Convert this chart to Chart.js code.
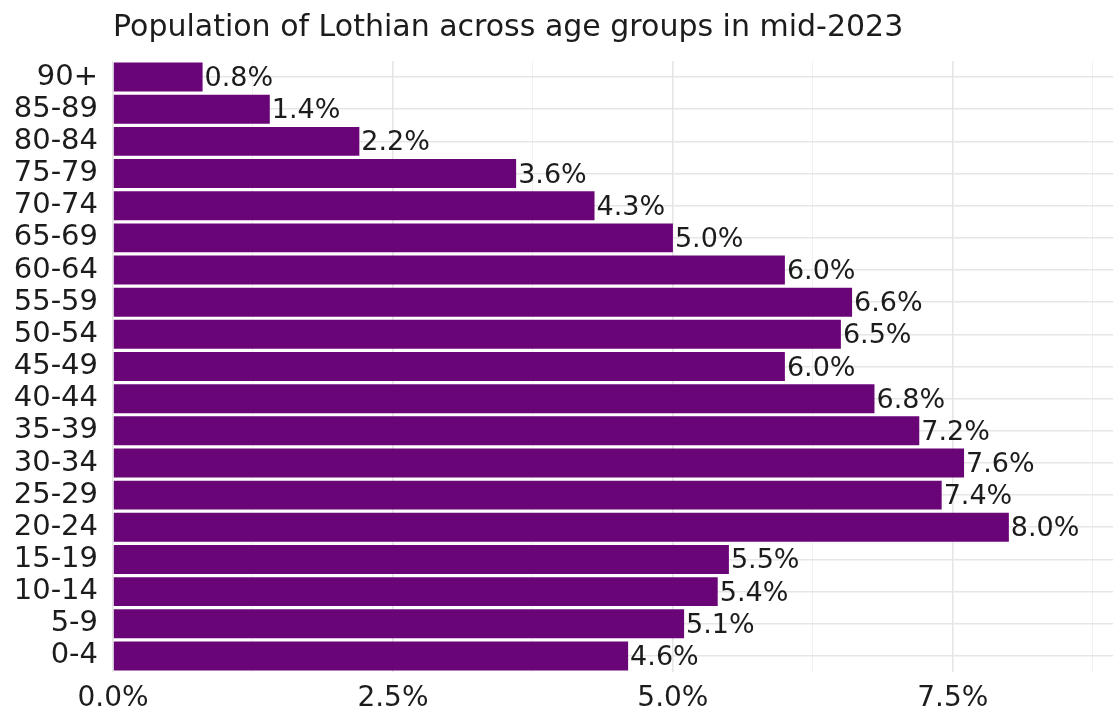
<!DOCTYPE html>
<html>
<head>
<meta charset="utf-8">
<title>Population of Lothian by age group</title>
<script src="https://cdn.jsdelivr.net/npm/chart.js@4/dist/chart.umd.min.js"></script>
<style>
  html, body { margin: 0; padding: 0; background: #ffffff; }
  #wrap { width: 1113px; height: 711px; }
</style>
</head>
<body>
<div id="wrap"><canvas id="ageChart" width="1113" height="711"></canvas></div>
<script>
// ── Data ──────────────────────────────────────────────────────
const AGE_GROUPS = ['0-4', '5-9', '10-14', '15-19', '20-24', '25-29', '30-34', '35-39', '40-44',
                    '45-49', '50-54', '55-59', '60-64', '65-69', '70-74', '75-79', '80-84', '85-89', '90+'];
const SHARE_PCT  = [4.6, 5.1, 5.4, 5.5, 8.0, 7.4, 7.6, 7.2, 6.8,
                    6.0, 6.5, 6.6, 6.0, 5.0, 4.3, 3.6, 2.2, 1.4, 0.8];
const TITLE_TEXT = 'Population of Lothian across age groups in mid-2023';

// ── Styles ────────────────────────────────────────────────────
const FONT_FAMILY = '"DejaVu Sans", sans-serif';
const BAR_COLOR   = '#6a0578';
const TEXT_COLOR  = '#1c1c1c';
const GRID_MAJOR  = '#e6e6e6';
const GRID_MINOR  = '#f0f0f0';

const fmtPct = v => v.toFixed(1) + '%';
const isMajor = v => Math.abs(v % 2.5) < 1e-6;

// title drawn flush with the plot's left edge
const titlePlugin = {
  id: 'leftTitle',
  afterDraw(chart) {
    const { ctx, chartArea } = chart;
    ctx.save();
    ctx.font = `30px ${FONT_FAMILY}`;
    ctx.fillStyle = TEXT_COLOR;
    ctx.textAlign = 'left';
    ctx.textBaseline = 'alphabetic';
    ctx.fillText(TITLE_TEXT, chartArea.left, 36);
    ctx.restore();
  }
};

// value labels just past the end of each bar
const valueLabels = {
  id: 'valueLabels',
  afterDatasetsDraw(chart) {
    const { ctx } = chart;
    const meta = chart.getDatasetMeta(0);
    ctx.save();
    ctx.font = `27px ${FONT_FAMILY}`;
    ctx.fillStyle = TEXT_COLOR;
    ctx.textAlign = 'left';
    ctx.textBaseline = 'middle';
    meta.data.forEach((bar, i) => {
      ctx.fillText(fmtPct(SHARE_PCT[i]), bar.x + 2, bar.y + 2);
    });
    ctx.restore();
  }
};

new Chart(document.getElementById('ageChart'), {
  type: 'bar',
  data: {
    labels: AGE_GROUPS,
    datasets: [{
      data: SHARE_PCT,
      backgroundColor: BAR_COLOR,
      borderWidth: 0,
      categoryPercentage: 1.0,
      barPercentage: 0.9
    }]
  },
  options: {
    indexAxis: 'y',
    responsive: false,
    animation: false,
    layout: { padding: { top: 61, right: 0, left: 0, bottom: 0 } },
    plugins: {
      legend: { display: false },
      title: { display: false },
      tooltip: { enabled: false }
    },
    scales: {
      x: {
        type: 'linear',
        min: 0,
        max: 8.93,
        border: { display: false },
        grid: {
          drawTicks: false,
          color: ctx => (isMajor(ctx.tick.value) ? GRID_MAJOR : GRID_MINOR),
          lineWidth: ctx => (isMajor(ctx.tick.value) ? 1.6 : 1)
        },
        ticks: {
          stepSize: 1.25,
          includeBounds: false,
          autoSkip: false,
          maxRotation: 0,
          padding: 10,
          color: TEXT_COLOR,
          font: { family: FONT_FAMILY, size: 28 },
          callback: v => (isMajor(v) ? fmtPct(v) : '')
        },
        afterFit(scale) { scale.height = 39; }
      },
      y: {
        reverse: true,
        border: { display: false },
        grid: { offset: false, drawTicks: false, color: GRID_MAJOR, lineWidth: 1.6 },
        ticks: {
          autoSkip: false,
          padding: 15,
          color: TEXT_COLOR,
          font: { family: FONT_FAMILY, size: 29 }
        },
        afterFit(scale) { scale.width = 113; }
      }
    }
  },
  plugins: [titlePlugin, valueLabels]
});
</script>
</body>
</html>
